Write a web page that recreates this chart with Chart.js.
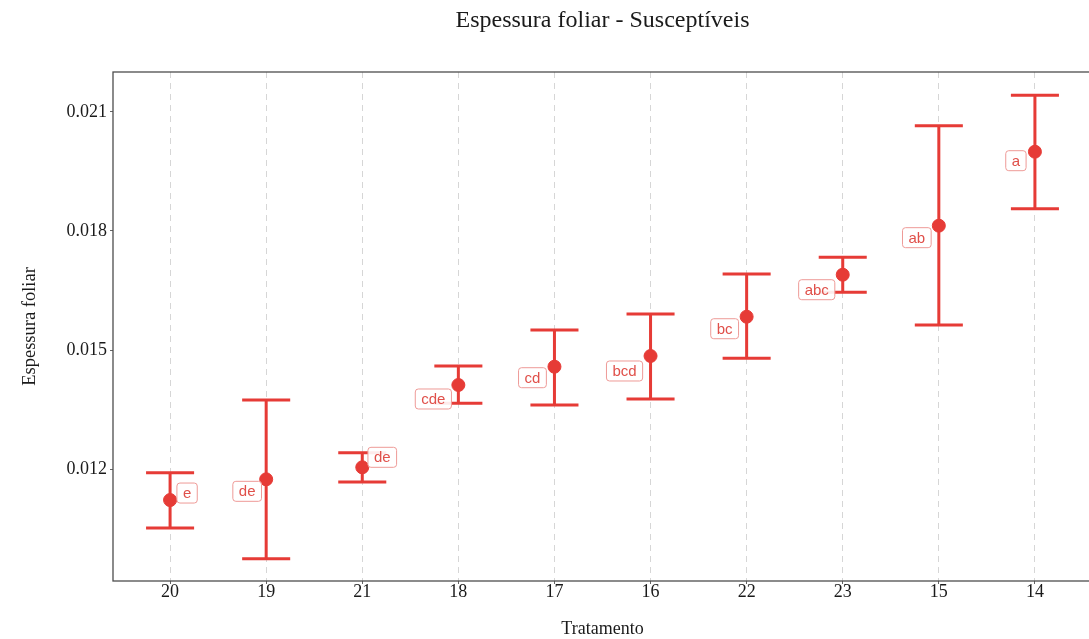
<!DOCTYPE html>
<html>
<head>
<meta charset="utf-8">
<script src="https://cdn.jsdelivr.net/npm/chart.js@4.4.1/dist/chart.umd.min.js"></script>
<style>
    html, body { margin: 0; padding: 0; background: #ffffff; overflow: hidden; }
    #wrap { width: 1100px; height: 639px; overflow: hidden; }
    #canvas { display: block; width: 1100px; height: 639px; }
</style>
</head>
<body>
<div id="wrap">
    <canvas id="canvas" width="1100" height="639"></canvas>
</div>
<script>
// tratamentos na ordem do eixo x
const tratamentos = ['20', '19', '21', '18', '17', '16', '22', '23', '15', '14'];
// media da espessura foliar
const medias = [0.011218, 0.011740, 0.012043, 0.014118, 0.014579, 0.014849, 0.015839, 0.016898, 0.018134, 0.019999];
// limites das barras de erro
const limInferior = [0.010513, 0.009739, 0.011672, 0.013656, 0.013613, 0.013765, 0.014791, 0.016455, 0.015630, 0.018562];
const limSuperior = [0.011907, 0.013740, 0.012411, 0.014597, 0.015504, 0.015908, 0.016916, 0.017337, 0.020655, 0.021421];
// letras do teste de medias
const letras = ['e', 'de', 'de', 'cde', 'cd', 'bcd', 'bc', 'abc', 'ab', 'a'];
const yTicks = [0.012, 0.015, 0.018, 0.021];

// deslocamento das etiquetas em pixels (tipo ggrepel)
const deslocEtiqueta = [[17, -7], [-19, 12], [20, -10], [-25, 14], [-22, 11], [-26, 15], [-22, 12], [-26, 15], [-22, 12], [-19, 9]];

const vermelho = '#E63B36';
const serif = "'Liberation Serif', 'Times New Roman', serif";

const zeraPadding = (scale) => {
    scale.paddingLeft = 0;
    scale.paddingRight = 0;
    scale.paddingTop = 0;
    scale.paddingBottom = 0;
};

const errorBars = {
    id: 'errorBars',
    beforeDatasetsDraw(chart) {
        const ctx = chart.ctx;
        const xs = chart.scales.x;
        const ys = chart.scales.y;
        ctx.save();
        ctx.strokeStyle = vermelho;
        ctx.lineWidth = 3;
        medias.forEach((m, i) => {
            const x = xs.getPixelForValue(i);
            const x0 = xs.getPixelForValue(i - 0.25);
            const x1 = xs.getPixelForValue(i + 0.25);
            const yl = ys.getPixelForValue(limInferior[i]);
            const yu = ys.getPixelForValue(limSuperior[i]);
            ctx.beginPath();
            ctx.moveTo(x, yl);
            ctx.lineTo(x, yu);
            ctx.moveTo(x0, yl);
            ctx.lineTo(x1, yl);
            ctx.moveTo(x0, yu);
            ctx.lineTo(x1, yu);
            ctx.stroke();
        });
        ctx.restore();
    },
    afterDraw(chart) {
        const ctx = chart.ctx;
        const xs = chart.scales.x;
        const ys = chart.scales.y;
        const area = chart.chartArea;
        ctx.save();
        // moldura do painel
        ctx.strokeStyle = '#4d4d4d';
        ctx.lineWidth = 1.3;
        ctx.strokeRect(area.left, area.top, area.right - area.left, area.bottom - area.top);

        ctx.font = "15px 'Liberation Sans', Arial, sans-serif";
        ctx.textAlign = 'center';
        ctx.textBaseline = 'middle';
        letras.forEach((txt, i) => {
            const cx = xs.getPixelForValue(i) + deslocEtiqueta[i][0];
            const cy = ys.getPixelForValue(medias[i]) + deslocEtiqueta[i][1];
            const w = ctx.measureText(txt).width + 12;
            const h = 20;
            ctx.beginPath();
            ctx.roundRect(cx - w / 2, cy - h / 2, w, h, 3);
            ctx.fillStyle = 'rgba(255,255,255,0.9)';
            ctx.fill();
            ctx.strokeStyle = '#EE9A97';
            ctx.lineWidth = 1;
            ctx.stroke();
            ctx.fillStyle = '#E0504A';
            ctx.fillText(txt, cx, cy + 1);
        });
        ctx.restore();
    }
};

const pontos = medias.map((m, i) => ({ x: i, y: m }));

const config = {
    type: 'scatter',
    data: {
        datasets: [
            {
                label: 'Espessura foliar',
                data: pontos,
                backgroundColor: vermelho,
                borderColor: vermelho,
                pointRadius: 6.5,
                pointHoverRadius: 6.5,
            }
        ]
    },
    options: {
        responsive: false,
        animation: false,
        layout: {
            padding: { left: 0, right: 8, top: 0, bottom: 0 }
        },
        plugins: {
            legend: { display: false },
            tooltip: { enabled: false },
            title: {
                display: true,
                fullSize: false,
                text: 'Espessura foliar - Susceptíveis',
                color: '#1a1a1a',
                font: { family: serif, size: 24, weight: 'normal' },
                padding: { top: 6, bottom: 37.2 }
            }
        },
        scales: {
            x: {
                type: 'linear',
                min: -0.594,
                max: 9.594,
                afterBuildTicks: (scale) => {
                    scale.ticks = tratamentos.map((t, i) => ({ value: i }));
                },
                afterFit: (scale) => {
                    scale.height = 58;
                    zeraPadding(scale);
                },
                ticks: {
                    color: '#1a1a1a',
                    font: { family: serif, size: 18 },
                    padding: -3,
                    maxRotation: 0,
                    autoSkip: false,
                    callback: (value) => tratamentos[value]
                },
                grid: {
                    color: '#d6d6d6',
                    lineWidth: 1,
                    tickColor: '#666',
                    tickLength: 3,
                    tickBorderDash: []
                },
                border: { display: false, dash: [6, 5] },
                title: {
                    display: true,
                    text: 'Tratamento',
                    color: '#1a1a1a',
                    font: { family: serif, size: 18 },
                    padding: { top: 0, bottom: -1 }
                }
            },
            y: {
                type: 'linear',
                min: 0.009177,
                max: 0.022008,
                afterBuildTicks: (scale) => {
                    scale.ticks = yTicks.map(v => ({ value: v }));
                },
                afterFit: (scale) => {
                    scale.width = 113;
                    zeraPadding(scale);
                },
                ticks: {
                    color: '#1a1a1a',
                    font: { family: serif, size: 18 },
                    padding: 3,
                    callback: (value) => value.toFixed(3)
                },
                grid: {
                    color: 'rgba(0,0,0,0)',
                    tickColor: '#666',
                    tickLength: 3
                },
                border: { display: false },
                title: {
                    display: true,
                    text: 'Espessura foliar',
                    color: '#1a1a1a',
                    font: { family: serif, size: 18.5 },
                    padding: { top: 19, bottom: 0 }
                }
            }
        }
    },
    plugins: [errorBars]
};

const chart = new Chart(document.getElementById('canvas'), config);
</script>
</body>
</html>
